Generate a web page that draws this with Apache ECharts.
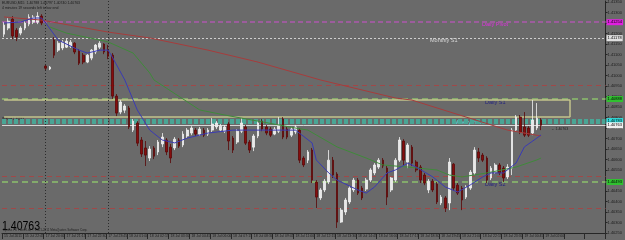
<!DOCTYPE html>
<html>
<head>
<meta charset="utf-8">
<script src="https://cdn.jsdelivr.net/npm/echarts@6/dist/echarts.min.js"></script>
<style>
  html, body { margin: 0; padding: 0; background: #6a6a6a; }
  #chart { width: 625px; height: 240px; }
</style>
</head>
<body>
<div id="chart"></div>
<script>
// EURUSD M15, [open, close, low, high]
const candles = [
  [1.41197, 1.41240, 1.41183, 1.41254], [1.41226, 1.41259, 1.41216, 1.41273],
  [1.41269, 1.41188, 1.41173, 1.41283], [1.41216, 1.41183, 1.41164, 1.41226],
  [1.41202, 1.41226, 1.41192, 1.41235], [1.41226, 1.41250, 1.41216, 1.41259],
  [1.41245, 1.41278, 1.41235, 1.41292], [1.41254, 1.41278, 1.41245, 1.41288],
  [1.41254, 1.41283, 1.41245, 1.41302], [1.41283, 1.41250, 1.41240, 1.41292],
  [1.41045, 1.41035, 1.41026, 1.41050], [1.41031, 1.41040, 1.41026, 1.41045],
  [1.41169, 1.41097, 1.41083, 1.41183], [1.41121, 1.41154, 1.41112, 1.41164],
  [1.41131, 1.41159, 1.41121, 1.41169], [1.41135, 1.41164, 1.41131, 1.41178],
  [1.41140, 1.41159, 1.41131, 1.41169], [1.41154, 1.41112, 1.41102, 1.41159],
  [1.41116, 1.41059, 1.41050, 1.41126], [1.41097, 1.41064, 1.41054, 1.41107],
  [1.41064, 1.41097, 1.41059, 1.41102], [1.41083, 1.41121, 1.41073, 1.41126],
  [1.41112, 1.41145, 1.41102, 1.41150], [1.41135, 1.41154, 1.41126, 1.41164],
  [1.41150, 1.41112, 1.41102, 1.41154], [1.41121, 1.41092, 1.41078, 1.41145],
  [1.41097, 1.40902, 1.40888, 1.41107], [1.40902, 1.40821, 1.40807, 1.40912],
  [1.40826, 1.40874, 1.40816, 1.40883], [1.40835, 1.40855, 1.40821, 1.40864],
  [1.40845, 1.40755, 1.40745, 1.40855], [1.40740, 1.40783, 1.40731, 1.40793],
  [1.40774, 1.40678, 1.40664, 1.40783], [1.40693, 1.40626, 1.40612, 1.40707],
  [1.40655, 1.40621, 1.40569, 1.40688], [1.40607, 1.40650, 1.40593, 1.40664],
  [1.40655, 1.40616, 1.40602, 1.40664], [1.40636, 1.40683, 1.40621, 1.40693],
  [1.40674, 1.40707, 1.40659, 1.40726], [1.40693, 1.40636, 1.40621, 1.40702],
  [1.40659, 1.40607, 1.40583, 1.40674], [1.40655, 1.40697, 1.40645, 1.40707],
  [1.40693, 1.40664, 1.40655, 1.40702], [1.40669, 1.40721, 1.40659, 1.40735],
  [1.40712, 1.40740, 1.40702, 1.40750], [1.40726, 1.40750, 1.40716, 1.40759],
  [1.40740, 1.40721, 1.40712, 1.40750], [1.40721, 1.40745, 1.40712, 1.40755],
  [1.40740, 1.40716, 1.40707, 1.40750], [1.40721, 1.40740, 1.40712, 1.40750],
  [1.40740, 1.40769, 1.40731, 1.40797], [1.40755, 1.40774, 1.40745, 1.40783],
  [1.40740, 1.40759, 1.40731, 1.40769], [1.40735, 1.40755, 1.40726, 1.40764],
  [1.40769, 1.40688, 1.40645, 1.40778], [1.40702, 1.40645, 1.40631, 1.40712],
  [1.40683, 1.40735, 1.40674, 1.40745], [1.40735, 1.40774, 1.40726, 1.40797],
  [1.40755, 1.40678, 1.40669, 1.40764], [1.40683, 1.40645, 1.40631, 1.40693],
  [1.40659, 1.40712, 1.40640, 1.40721], [1.40712, 1.40774, 1.40702, 1.40783],
  [1.40783, 1.40745, 1.40735, 1.40793], [1.40755, 1.40726, 1.40716, 1.40764],
  [1.40745, 1.40716, 1.40707, 1.40755], [1.40721, 1.40745, 1.40716, 1.40755],
  [1.40735, 1.40764, 1.40726, 1.40802], [1.40793, 1.40707, 1.40697, 1.40802],
  [1.40745, 1.40707, 1.40697, 1.40755], [1.40716, 1.40745, 1.40707, 1.40755],
  [1.40731, 1.40755, 1.40721, 1.40764], [1.40740, 1.40597, 1.40583, 1.40750],
  [1.40607, 1.40574, 1.40564, 1.40616], [1.40597, 1.40636, 1.40583, 1.40645],
  [1.40645, 1.40502, 1.40488, 1.40655], [1.40493, 1.40421, 1.40369, 1.40502],
  [1.40417, 1.40455, 1.40407, 1.40464], [1.40455, 1.40497, 1.40445, 1.40507],
  [1.40493, 1.40597, 1.40483, 1.40645], [1.40597, 1.40526, 1.40512, 1.40612],
  [1.40531, 1.40302, 1.40274, 1.40540], [1.40302, 1.40359, 1.40298, 1.40369],
  [1.40350, 1.40407, 1.40336, 1.40417], [1.40398, 1.40464, 1.40388, 1.40474],
  [1.40455, 1.40502, 1.40445, 1.40512], [1.40502, 1.40440, 1.40431, 1.40512],
  [1.40464, 1.40417, 1.40407, 1.40474], [1.40459, 1.40502, 1.40450, 1.40512],
  [1.40502, 1.40550, 1.40493, 1.40559], [1.40536, 1.40574, 1.40526, 1.40583],
  [1.40564, 1.40597, 1.40555, 1.40607], [1.40597, 1.40569, 1.40559, 1.40607],
  [1.40559, 1.40421, 1.40383, 1.40569], [1.40455, 1.40512, 1.40445, 1.40517],
  [1.40502, 1.40597, 1.40493, 1.40607], [1.40597, 1.40693, 1.40588, 1.40707],
  [1.40688, 1.40597, 1.40574, 1.40697], [1.40588, 1.40669, 1.40559, 1.40678],
  [1.40659, 1.40583, 1.40569, 1.40669], [1.40588, 1.40550, 1.40540, 1.40597],
  [1.40564, 1.40502, 1.40488, 1.40574], [1.40526, 1.40488, 1.40478, 1.40536],
  [1.40455, 1.40497, 1.40440, 1.40507], [1.40497, 1.40455, 1.40445, 1.40507],
  [1.40483, 1.40398, 1.40388, 1.40493], [1.40393, 1.40421, 1.40383, 1.40431],
  [1.40417, 1.40369, 1.40350, 1.40426], [1.40393, 1.40588, 1.40359, 1.40607],
  [1.40578, 1.40464, 1.40450, 1.40583], [1.40478, 1.40440, 1.40431, 1.40488],
  [1.40464, 1.40407, 1.40359, 1.40474], [1.40421, 1.40469, 1.40412, 1.40478],
  [1.40464, 1.40540, 1.40455, 1.40550], [1.40536, 1.40645, 1.40526, 1.40659],
  [1.40636, 1.40607, 1.40588, 1.40655], [1.40621, 1.40597, 1.40588, 1.40631],
  [1.40607, 1.40502, 1.40488, 1.40616], [1.40512, 1.40559, 1.40502, 1.40569],
  [1.40540, 1.40574, 1.40531, 1.40583], [1.40574, 1.40536, 1.40526, 1.40583],
  [1.40559, 1.40512, 1.40493, 1.40569], [1.40517, 1.40564, 1.40507, 1.40578],
  [1.40559, 1.40740, 1.40526, 1.40750], [1.40740, 1.40802, 1.40731, 1.40812],
  [1.40802, 1.40731, 1.40721, 1.40812], [1.40755, 1.40716, 1.40707, 1.40826],
  [1.40750, 1.40716, 1.40707, 1.40759], [1.40726, 1.40788, 1.40716, 1.40883],
  [1.40750, 1.40797, 1.40740, 1.40869], [1.40788, 1.40763, 1.40740, 1.40797]
]

// moving averages, [bar index, value]
const maFast = [
  [0, 1.41250], [4, 1.41255], [7, 1.41274], [9, 1.41274], [10, 1.41250], [13, 1.41169],
  [18, 1.41121], [20, 1.41107], [23, 1.41121], [25, 1.41121], [26, 1.41088], [29, 1.40979],
  [32, 1.40836], [35, 1.40740], [38, 1.40693], [41, 1.40679], [44, 1.40702], [49, 1.40726],
  [55, 1.40740], [63, 1.40740], [70, 1.40740], [74, 1.40679], [75, 1.40598], [78, 1.40536],
  [80, 1.40502], [85, 1.40455], [87, 1.40440], [89, 1.40469], [92, 1.40536], [94, 1.40550],
  [97, 1.40583], [99, 1.40564], [103, 1.40517], [106, 1.40469], [109, 1.40445], [112, 1.40479],
  [115, 1.40517], [117, 1.40536], [120, 1.40536], [123, 1.40583], [125, 1.40660], [128, 1.40702],
  [129, 1.40717]
]
const maMid = [
  [11, 1.41231], [15, 1.41202], [23, 1.41169], [25, 1.41160], [31, 1.41107], [35, 1.41012],
  [36, 1.40979], [39, 1.40940], [47, 1.40836], [53, 1.40812], [70, 1.40750], [73, 1.40740],
  [75, 1.40717], [80, 1.40660], [87, 1.40607], [91, 1.40574], [97, 1.40564], [104, 1.40550],
  [107, 1.40526], [110, 1.40517], [116, 1.40536], [123, 1.40564], [128, 1.40598], [129, 1.40607]
]
const maSlow = [
  [0, 1.41279], [9, 1.41264], [25, 1.41207], [35, 1.41179], [49, 1.41121], [61, 1.41064],
  [76, 1.40979], [94, 1.40893], [98, 1.40883], [121, 1.40740], [129, 1.40712]
]

// every 5th bar
const tickLabels = [
  '15 Jul 2011', '15 Jul 22:45', '17 Jul 20:00', '17 Jul 21:15', '17 Jul 22:30', '17 Jul 23:45',
  '18 Jul 01:00', '18 Jul 02:15', '18 Jul 03:30', '18 Jul 04:45', '18 Jul 06:00', '18 Jul 07:15',
  '18 Jul 08:30', '18 Jul 09:45', '18 Jul 11:00', '18 Jul 12:15', '18 Jul 13:30', '18 Jul 14:45',
  '18 Jul 16:00', '18 Jul 17:15', '18 Jul 18:30', '18 Jul 19:45', '18 Jul 21:00', '18 Jul 22:15',
  '18 Jul 23:30', '19 Jul 00:45', '19 Jul 02:00'
]

const barSlots = 145
const separators = [10, 25]
const dailyPivot = 1.41254
const monthlyS1 = 1.41178
const weeklyPivot = 1.40783
const lastPrice = 1.40763
const redLevels = [1.40954, 1.40521, 1.40369]
const greenLevels = [1.40888, 1.40493]
const dailyS1Box = [1.40883, 1.40802]
const dailyS1BoxEnd = 136

const categories = Array.from({ length: barSlots }, (_, i) => i)

const fmt = p => Number(p.value).toFixed(5)
function level(value, color, width, type, tag) {
  const item = { yAxis: value, lineStyle: { color: color, width: width, type: type } }
  if (tag) {
    item.label = {
      show: true, position: 'end', distance: 1, formatter: fmt,
      fontSize: 4, color: '#000', backgroundColor: tag, padding: [1, 1]
    }
  } else {
    item.label = { show: false }
  }
  return item
}

const boxStyle = { color: '#c4c48c', width: 1.5, type: 'solid' }
const levelLines = [
  level(dailyPivot, '#9c5c9c', 2, [5, 3], '#e020e0'),
  level(monthlyS1, '#cfcfcf', 1, [2, 2], '#e0e0e0'),
  level(weeklyPivot, '#4aa595', 5, [4, 2], '#30e0e0'),
  level(lastPrice, '#d6d6d6', 1, 'solid', '#f0f0f0')
]
redLevels.forEach(v => levelLines.push(level(v, '#a04848', 1, [5, 4])))
greenLevels.forEach(v => levelLines.push(level(v, '#8cc06c', 1.5, [6, 4], '#30c030')))
levelLines.push(
  [{ coord: [0, dailyS1Box[0]], lineStyle: boxStyle }, { coord: [dailyS1BoxEnd, dailyS1Box[0]] }],
  [{ coord: [0, dailyS1Box[1]], lineStyle: boxStyle }, { coord: [dailyS1BoxEnd, dailyS1Box[1]] }],
  [{ coord: [dailyS1BoxEnd, dailyS1Box[0]], lineStyle: boxStyle }, { coord: [dailyS1BoxEnd, dailyS1Box[1]] }]
)
separators.forEach(i => levelLines.push({
  xAxis: i, label: { show: false }, lineStyle: { color: '#2c2c2c', width: 1, type: [1, 2] }
}))

const chart = echarts.init(document.getElementById('chart'))

const txt = (x, y, text, size, color, extra) => Object.assign({
  type: 'text', x: x, y: y, silent: true,
  style: { text: text, fill: color, fontSize: size, fontFamily: 'Liberation Sans, Arial, sans-serif' }
}, extra || {})

chart.setOption({
  animation: false,
  backgroundColor: '#6a6a6a',
  grid: { left: 2, right: 13, top: 1, bottom: 7 },
  xAxis: {
    type: 'category',
    data: categories,
    boundaryGap: true,
    axisLine: { lineStyle: { color: '#262626', width: 1 } },
    axisTick: { show: true, interval: 4, length: 6, lineStyle: { color: '#2a2a2a' } },
    axisLabel: {
      interval: 4, fontSize: 3.5, color: '#1c1c1c', align: 'left', margin: 1,
      formatter: (v, idx) => tickLabels[idx / 5] || ''
    },
    splitLine: { show: false }
  },
  yAxis: {
    type: 'value',
    position: 'right',
    min: 1.4025,
    max: 1.41355,
    interval: 0.0005,
    axisLine: { show: true, lineStyle: { color: '#262626', width: 1 } },
    axisTick: { show: true, length: 2, lineStyle: { color: '#262626' } },
    axisLabel: {
      fontSize: 4, color: '#1c1c1c', margin: 2, showMaxLabel: false,
      formatter: v => v.toFixed(5)
    },
    splitLine: { show: false }
  },
  series: [
    {
      type: 'candlestick',
      data: candles,
      barWidth: 2.2,
      z: 3,
      itemStyle: {
        color: '#e8e8e8',
        color0: '#850d0d',
        borderColor: '#f2f2f2',
        borderColor0: '#5a0808',
        borderWidth: 0.8
      },
      markLine: { silent: true, symbol: 'none', z: 1, animation: false, precision: 5, data: levelLines }
    },
    {
      type: 'line', data: maSlow, showSymbol: false, z: 4,
      lineStyle: { color: '#a63c3c', width: 1 }
    },
    {
      type: 'line', data: maMid, showSymbol: false, z: 4,
      lineStyle: { color: '#3f8a3a', width: 1 }
    },
    {
      type: 'line', data: maFast, showSymbol: false, z: 4,
      lineStyle: { color: '#3a3ab4', width: 1 }
    }
  ],
  graphic: [
    txt(2, 1, 'EURUSD,M15  1.40788 1.40797 1.40740 1.40763', 3.5, '#1a1a1a'),
    txt(2, 6, '4 minutes 19 seconds left to bar end', 3.5, '#1a1a1a'),
    txt(482, 21, 'Daily Pivot', 5.5, '#e030e0'),
    txt(430, 37, 'Monthly S1', 5.5, '#dadada'),
    txt(485, 99, 'Daily S1', 5.5, '#25257e'),
    txt(453, 119, 'WeeklyPivot', 5.5, '#50eaea'),
    txt(485, 181, 'Daily S2', 5.5, '#25257e'),
    txt(2, 118, 'W.Pivot 1.40783', 3, '#111111'),
    txt(551, 127, '\u2190 1.40763', 3.5, '#222222'),
    txt(2, 219, '1.40763', 13.5, '#000000', { scaleX: 0.78 }),
    txt(3, 229, 'Xpress FX Forex Ltd, \u00a9 2001-2011 MetaQuotes Software Corp.', 3, '#222222')
  ]
})
</script>
</body>
</html>
